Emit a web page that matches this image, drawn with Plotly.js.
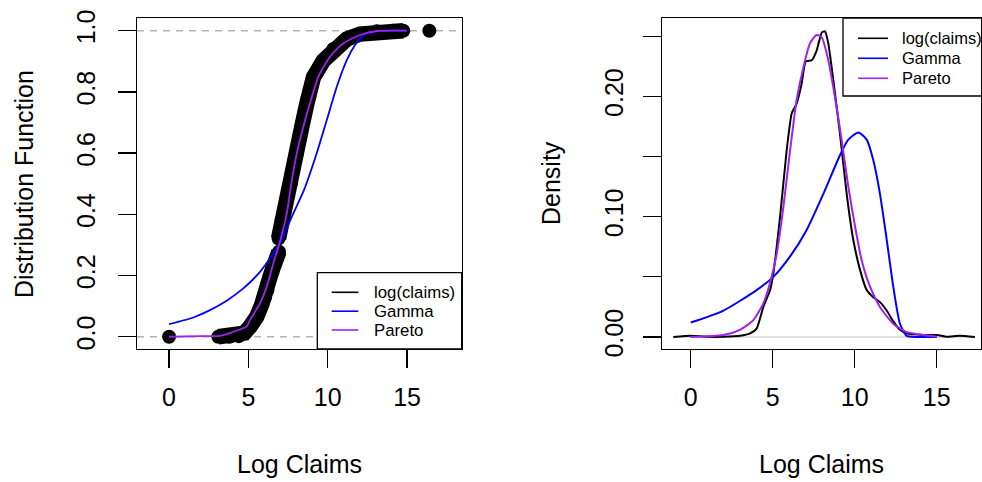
<!DOCTYPE html>
<html>
<head>
<meta charset="utf-8">
<script src="https://cdn.plot.ly/plotly-3.0.1.min.js"></script>
<style>html,body{margin:0;padding:0;background:#fff;}#chart{width:982px;height:482px;}</style>
</head>
<body>
<div id="chart"></div>
<script>
const ecdfIsoX = [0, 16.4];
const ecdfIsoF = [0, 1.0];
const ecdfLowX = [3.1, 3.8, 4.4, 4.75, 5.1, 5.35, 5.52, 5.84, 6.05, 6.2, 6.33, 6.55, 6.75, 6.93];
const ecdfLowF = [0.0, 0.0, 0.002, 0.012, 0.033, 0.05, 0.065, 0.105, 0.13, 0.153, 0.19, 0.225, 0.255, 0.278];
const ecdfHighX = [6.9, 7.1, 7.42, 7.67, 8.05, 8.36, 8.68, 9.1, 9.72, 10.35, 11.2, 12.04, 13.09, 14.1, 14.76];
const ecdfHighF = [0.321, 0.381, 0.446, 0.50, 0.598, 0.685, 0.761, 0.848, 0.902, 0.94, 0.973, 0.989, 0.998, 1.0, 1.0];

// fitted Gamma CDF
const gammaCdfX = [0, 1.53, 2.58, 3.63, 4.68, 5.73, 6.57, 6.99, 7.83, 8.5, 9.3, 9.94, 10.57, 11.2, 11.72, 12.25, 13.1, 14, 15];
const gammaCdfF = [0.041, 0.063, 0.087, 0.118, 0.158, 0.212, 0.272, 0.306, 0.403, 0.479, 0.599, 0.708, 0.817, 0.904, 0.953, 0.986, 0.998, 1.0, 1.0];
// fitted Pareto CDF
const paretoCdfX = [0, 1.95, 3.2, 4.05, 4.9, 5.1, 5.73, 6.15, 6.57, 6.93, 7.42, 7.67, 8.05, 8.46, 8.88, 9.41, 10.14, 10.98, 12.04, 13.1, 14.98];
const paretoCdfF = [0, 0.002, 0.003, 0.016, 0.034, 0.055, 0.109, 0.163, 0.24, 0.30, 0.403, 0.49, 0.599, 0.686, 0.763, 0.85, 0.915, 0.959, 0.986, 0.999, 1.0];

// ---------- Right panel: densities ----------
const kdeX = [-1.06, 0, 1, 2, 3.0, 3.62, 4.02, 4.43, 4.84, 5.04, 5.45, 5.85, 6.16, 6.46, 6.77, 7.01, 7.38, 7.68, 7.99, 8.19, 8.39, 8.7, 9.1, 9.51, 9.91, 10.32, 10.73, 11.13, 11.54, 11.95, 12.35, 12.76, 13.17, 14.18, 15.0, 15.6, 16.4, 17.33];
const kdeY = [0, 0.001, 0.0002, 0.0002, 0.001, 0.003, 0.007, 0.025, 0.039, 0.053, 0.10, 0.155, 0.186, 0.194, 0.211, 0.229, 0.230, 0.238, 0.253, 0.254, 0.244, 0.213, 0.169, 0.119, 0.081, 0.056, 0.039, 0.033, 0.029, 0.022, 0.013, 0.006, 0.003, 0.0017, 0.0017, 0.0003, 0.001, 0];

const gammaPdfX = [0, 2.0, 4.02, 5.04, 6.06, 7.07, 8.09, 9.1, 9.61, 10.22, 10.73, 11.13, 11.54, 11.95, 12.35, 12.76, 13.17, 13.8, 15];
const gammaPdfY = [0.012, 0.022, 0.039, 0.050, 0.067, 0.089, 0.119, 0.151, 0.164, 0.170, 0.164, 0.147, 0.119, 0.081, 0.042, 0.011, 0.001, 0, 0];

const paretoPdfX = [0, 2.0, 3.0, 3.82, 4.43, 4.84, 5.24, 5.65, 6.06, 6.46, 6.87, 7.27, 7.68, 7.99, 8.39, 8.8, 9.2, 9.61, 10.02, 10.42, 10.93, 11.54, 12.35, 13.17, 14.18, 15.0];
const paretoPdfY = [0, 0.0017, 0.006, 0.014, 0.028, 0.045, 0.069, 0.108, 0.155, 0.197, 0.224, 0.244, 0.251, 0.249, 0.230, 0.199, 0.164, 0.125, 0.092, 0.064, 0.042, 0.025, 0.011, 0.004, 0.0017, 0.0003];

const xTicks = [0, 5, 10, 15];
const cdfTicks = [0, 0.2, 0.4, 0.6, 0.8, 1.0];
const cdfTickText = ['0.0', '0.2', '0.4', '0.6', '0.8', '1.0'];
const denTicks = [0, 0.05, 0.10, 0.15, 0.20, 0.25];
const denTickText = ['0.00', '', '0.10', '', '0.20', ''];
const legendNames = ['log(claims)', 'Gamma', 'Pareto'];
const legendColors = ['black', '#0000ff', '#a020f0'];

// ---------- build ----------
const FONT = 'Liberation Sans, Arial, Helvetica, sans-serif';
const W = 982, H = 482;
const PX = v => v / W, PY = v => 1 - v / H;
const ecdfSize = 14;

const ecdfX = ecdfLowX.concat([null], ecdfHighX);
const ecdfF = ecdfLowF.concat([null], ecdfHighF);

const traces = [
  {x: ecdfX, y: ecdfF, xaxis: 'x', yaxis: 'y', mode: 'lines+markers', connectgaps: false,
   line: {color: 'black', width: 15.5}, marker: {color: 'black', size: ecdfSize}, showlegend: false, hoverinfo: 'skip'},
  {x: ecdfIsoX, y: ecdfIsoF, xaxis: 'x', yaxis: 'y', mode: 'markers',
   marker: {color: 'black', size: ecdfSize}, showlegend: false},
  {x: gammaCdfX, y: gammaCdfF, xaxis: 'x', yaxis: 'y', mode: 'lines',
   line: {color: legendColors[1], width: 1.8, shape: 'spline', smoothing: 0.6}, showlegend: false},
  {x: paretoCdfX, y: paretoCdfF, xaxis: 'x', yaxis: 'y', mode: 'lines',
   line: {color: legendColors[2], width: 1.8, shape: 'spline', smoothing: 0.6}, showlegend: false},
  {x: kdeX, y: kdeY, xaxis: 'x2', yaxis: 'y2', mode: 'lines',
   line: {color: 'black', width: 2, shape: 'spline', smoothing: 0.5}, showlegend: false},
  {x: gammaPdfX, y: gammaPdfY, xaxis: 'x2', yaxis: 'y2', mode: 'lines',
   line: {color: legendColors[1], width: 2, shape: 'spline', smoothing: 0.6}, showlegend: false},
  {x: paretoPdfX, y: paretoPdfY, xaxis: 'x2', yaxis: 'y2', mode: 'lines',
   line: {color: legendColors[2], width: 2, shape: 'spline', smoothing: 0.6}, showlegend: false}
];

const axisCommon = {
  showgrid: false, zeroline: false, showline: true, mirror: true,
  linecolor: 'black', linewidth: 1.3, ticks: 'outside', ticklen: 18,
  tickwidth: 1.3, tickcolor: 'black', tickfont: {family: FONT, size: 25, color: 'black'},
  fixedrange: true
};

const layout = {
  width: W, height: H, margin: {l: 0, r: 0, t: 0, b: 0},
  paper_bgcolor: 'white', plot_bgcolor: 'white', showlegend: false,
  xaxis: Object.assign({}, axisCommon, {domain: [PX(137), PX(462)], range: [-2.02, 18.46],
    tickvals: xTicks, ticktext: xTicks.map(String), anchor: 'y', ticklabelstandoff: 8}),
  yaxis: Object.assign({}, axisCommon, {domain: [PY(349), PY(18)], range: [-0.040, 1.0415],
    tickvals: cdfTicks, ticktext: cdfTickText, tickangle: -90, anchor: 'x', ticklabelstandoff: 13}),
  xaxis2: Object.assign({}, axisCommon, {domain: [PX(662), PX(981)], range: [-1.75, 17.70],
    tickvals: xTicks, ticktext: xTicks.map(String), anchor: 'y2', ticklabelstandoff: 8}),
  yaxis2: Object.assign({}, axisCommon, {domain: [PY(349), PY(18)], range: [-0.00997, 0.2651],
    tickvals: denTicks, ticktext: denTickText, tickangle: -90, anchor: 'x2', ticklabelstandoff: 10}),
  shapes: [],
  annotations: []
};

// reference lines
[0, 1].forEach(v => layout.shapes.push({type: 'line', xref: 'x domain', yref: 'y', x0: 0, x1: 1, y0: v, y1: v,
  line: {color: '#b3b3b3', width: 1.5, dash: '7px,6px'}, layer: 'below'}));
layout.shapes.push({type: 'line', xref: 'x2', yref: 'y2', x0: kdeX[0], x1: kdeX[kdeX.length - 1], y0: 0, y1: 0,
  line: {color: '#bebebe', width: 1}, layer: 'below'});

// titles
const ann = (text, x, y, size, extra) => layout.annotations.push(Object.assign({
  text: text, xref: 'paper', yref: 'paper', x: PX(x), y: PY(y), showarrow: false,
  xanchor: 'center', yanchor: 'middle', font: {family: FONT, size: size, color: 'black'}}, extra || {}));
ann('Log Claims', 299.5, 464, 25);
ann('Log Claims', 821.5, 464, 25);
ann('Distribution Function', 24, 184, 25, {textangle: -90});
ann('Density', 551, 183, 25, {textangle: -90});

// legends
function addLegend(x0, y0, x1, y1, lineX0, lineX1, textX, rows, fsize) {
  layout.shapes.push({type: 'rect', xref: 'paper', yref: 'paper', x0: PX(x0), x1: PX(x1), y0: PY(y1), y1: PY(y0),
    line: {color: 'black', width: 1.3}, fillcolor: 'white', layer: 'above'});
  legendNames.forEach((nm, i) => {
    layout.shapes.push({type: 'line', xref: 'paper', yref: 'paper', x0: PX(lineX0), x1: PX(lineX1),
      y0: PY(rows[i]), y1: PY(rows[i]), line: {color: legendColors[i], width: 1.6}, layer: 'above'});
    ann(nm, textX, rows[i], fsize, {xanchor: 'left'});
  });
}
addLegend(317.3, 272.7, 461.7, 349, 331.7, 358.3, 372, [292.3, 311.2, 330], 16.8);
addLegend(843, 18, 981.7, 96, 858, 888, 900, [38.3, 58.3, 78.3], 16.5);

Plotly.newPlot('chart', traces, layout, {staticPlot: true, displayModeBar: false});
</script>
</body>
</html>
